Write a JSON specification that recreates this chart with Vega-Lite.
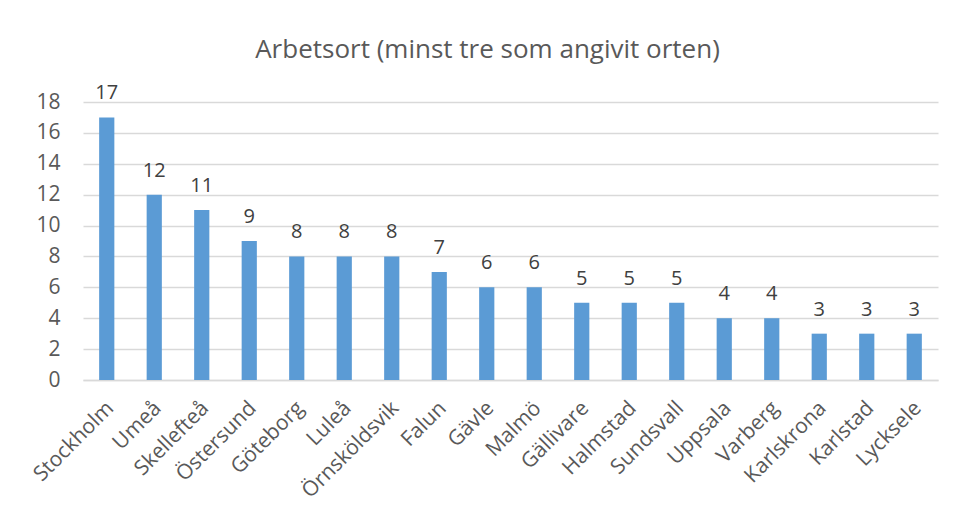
{
  "$schema": "https://vega.github.io/schema/vega-lite/v6.json",
  "width": 855,
  "height": 278,
  "autosize": {"type": "none"},
  "padding": {"left": 83, "top": 102, "right": 17, "bottom": 131},
  "background": "white",
  "title": {
    "text": "Arbetsort (minst tre som angivit orten)",
    "fontSize": 26,
    "font": "Open Sans",
    "fontWeight": "normal",
    "color": "#595959",
    "anchor": "middle",
    "dx": -23,
    "offset": 20
  },
  "data": {
    "values": [
      {"ort": "Stockholm", "antal": 17},
      {"ort": "Umeå", "antal": 12},
      {"ort": "Skellefteå", "antal": 11},
      {"ort": "Östersund", "antal": 9},
      {"ort": "Göteborg", "antal": 8},
      {"ort": "Luleå", "antal": 8},
      {"ort": "Örnsköldsvik", "antal": 8},
      {"ort": "Falun", "antal": 7},
      {"ort": "Gävle", "antal": 6},
      {"ort": "Malmö", "antal": 6},
      {"ort": "Gällivare", "antal": 5},
      {"ort": "Halmstad", "antal": 5},
      {"ort": "Sundsvall", "antal": 5},
      {"ort": "Uppsala", "antal": 4},
      {"ort": "Varberg", "antal": 4},
      {"ort": "Karlskrona", "antal": 3},
      {"ort": "Karlstad", "antal": 3},
      {"ort": "Lycksele", "antal": 3}
    ]
  },
  "encoding": {
    "x": {
      "field": "ort",
      "type": "nominal",
      "sort": null,
      "scale": {"paddingInner": 0.68, "paddingOuter": 0.34},
      "axis": {
        "title": null,
        "labelAngle": -45,
        "labelAlign": "right",
        "labelBaseline": "top",
        "labelFontSize": 21,
        "labelFont": "Open Sans",
        "labelColor": "#595959",
        "labelPadding": 17,
        "labelOffset": -4,
        "labelOverlap": false,
        "labelBound": false,
        "ticks": false,
        "domainColor": "#D9D9D9",
        "domainWidth": 1.5,
        "grid": false
      }
    },
    "y": {
      "field": "antal",
      "type": "quantitative",
      "scale": {"domain": [0, 18]},
      "axis": {
        "title": null,
        "values": [0, 2, 4, 6, 8, 10, 12, 14, 16, 18],
        "labelFontSize": 21,
        "labelFont": "Open Sans",
        "labelColor": "#595959",
        "labelPadding": 23,
        "ticks": false,
        "domain": false,
        "gridColor": "#D9D9D9",
        "gridWidth": 1.5
      }
    }
  },
  "layer": [
    {"mark": {"type": "bar", "color": "#5B9BD5"}},
    {
      "mark": {
        "type": "text",
        "baseline": "alphabetic",
        "dy": -18,
        "fontSize": 20,
        "font": "Open Sans",
        "color": "#404040"
      },
      "encoding": {"text": {"field": "antal", "type": "quantitative"}}
    }
  ],
  "config": {"view": {"stroke": null}}
}
